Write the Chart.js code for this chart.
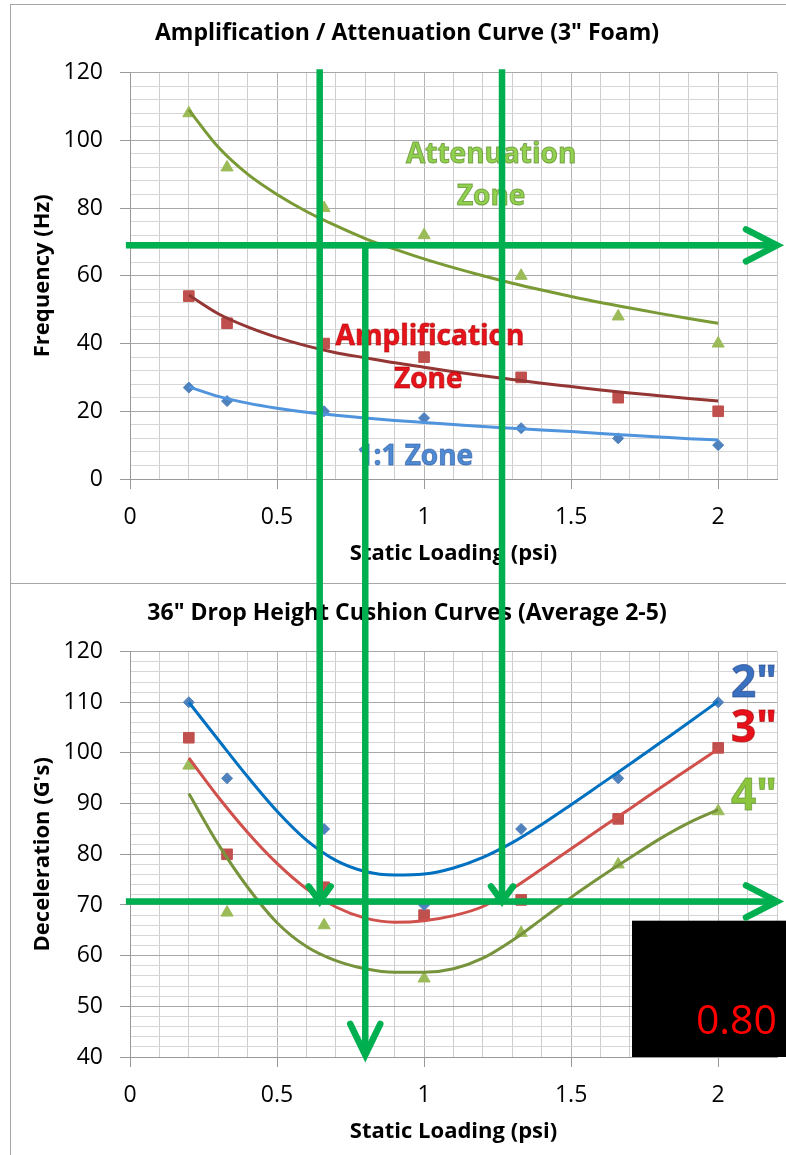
<!DOCTYPE html>
<html>
<head>
<meta charset="utf-8">
<script src="https://cdn.jsdelivr.net/npm/chart.js@4.4.1/dist/chart.umd.min.js"></script>
<style>
  html, body { margin: 0; padding: 0; background: #fff; }
  body { width: 786px; height: 1155px; position: relative; overflow: hidden; }
  #frame { position: absolute; left: 10px; top: 4px; width: 900px; height: 1300px;
           border-left: 1px solid #a6a6a6; border-top: 1px solid #a6a6a6; }
  #divider { position: absolute; left: 10px; top: 583px; width: 800px; height: 0;
             border-top: 1px solid #a6a6a6; }
  canvas { position: absolute; left: 0; }
  #topCanvas { top: 0; }
  #botCanvas { top: 583px; }
  #overlay { top: 0; pointer-events: none; }
</style>
</head>
<body>
<div id="frame"></div>
<div id="divider"></div>
<canvas id="topCanvas" width="786" height="583"></canvas>
<canvas id="botCanvas" width="786" height="572"></canvas>
<canvas id="overlay" width="786" height="1155"></canvas>
<script>
// ---- measured points (static loading, psi) ----
const psi = [0.2, 0.33, 0.66, 1.0, 1.33, 1.66, 2.0];

// top chart: natural frequency (Hz) of 3" foam
const attenHz = [108, 92, 80, 72, 60, 48, 40];
const amplHz  = [54, 46, 40, 36, 30, 24, 20];
const unityHz = [27, 23, 20, 18, 15, 12, 10];

// bottom chart: deceleration (G's) per cushion thickness
const g2in = [110, 95, 85, 70, 85, 95, 110];
const g3in = [103, 80, 73.5, 68, 71, 87, 101];
const g4in = [97.5, 68.5, 66, 55.5, 64.5, 78, 88.5];

// trendlines at these loadings
const trendPsi = [0.2, 0.3, 0.4, 0.5, 0.6, 0.7, 0.8, 0.9, 1.0, 1.1, 1.2, 1.3, 1.4, 1.5, 1.6, 1.7, 1.8, 1.9, 2.0];
const attenTrend = [109, 98, 90, 84, 79, 74.8, 71, 67.9, 65, 62.4, 60, 57.8, 55.8, 53.9, 52.1, 50.5, 48.9, 47.4, 46];
const amplTrend  = [54.3, 48.8, 44.9, 41.8, 39.3, 37.3, 35.8, 34.3, 33.0, 31.7, 30.5, 29.4, 28.3, 27.3, 26.3, 25.4, 24.6, 23.8, 23.0];
const unityTrend = [27.2, 24.4, 22.4, 20.9, 19.7, 18.8, 18.0, 17.3, 16.7, 16.1, 15.5, 15.0, 14.5, 14.0, 13.4, 12.9, 12.4, 11.9, 11.5];
const g2Trend = [110, 102.6, 95.3, 88.5, 82.8, 78.8, 76.6, 75.9, 76.1, 77.3, 79.4, 82.3, 85.9, 89.8, 93.8, 97.8, 101.9, 106, 110.2];
const g3Trend = [99, 91.3, 84.3, 78.2, 73.2, 69.6, 67.4, 66.6, 66.9, 67.9, 69.7, 73.2, 77.1, 81.1, 85.1, 89.0, 93.0, 96.9, 100.8];
const g4Trend = [92, 82, 73.5, 66.5, 61.8, 59.0, 57.4, 56.7, 56.7, 57.4, 59.5, 63.0, 67.2, 71.5, 75.5, 79.3, 83.0, 86.2, 88.8];

// tick labels
const psiMajor = [0, 0.5, 1, 1.5, 2];
const hzMajor = [0, 20, 40, 60, 80, 100, 120];
const gMajor = [40, 50, 60, 70, 80, 90, 100, 110, 120];

// read-off lines drawn on top of both charts
const hzLevel = 69;          // Hz
const gLevel = 70.7;         // G's
const readPsi = [0.645, 1.265];
const answerPsi = 0.80;

const FONT = "'Open Sans', 'Noto Sans', sans-serif";
const ARROW = '#00b050';

const near = (v, list) => list.some(m => Math.abs(m - v) < 1e-6);
const pts = (xs, ys) => xs.map((x, i) => ({ x, y: ys[i] }));

function markers(xs, ys, style, r, color) {
  return { data: pts(xs, ys), pointStyle: style, pointRadius: r, pointHoverRadius: r,
           backgroundColor: color, borderColor: color, borderWidth: 1, showLine: false };
}
function trend(ys, color) {
  return { data: pts(trendPsi, ys), showLine: true, pointRadius: 0, pointHoverRadius: 0,
           borderColor: color, borderWidth: 3, cubicInterpolationMode: 'monotone', fill: false };
}

// x tick padding also sets the right-hand gap of the plot, so the label
// drop is done with a tall line height instead
function scales(o) {
  return {
    x: {
      type: 'linear', min: 0, max: 2.2,
      afterFit: s => { s.height = o.xHeight; },
      ticks: { stepSize: 0.1, autoSkip: false, maxRotation: 0, padding: 9, color: '#000',
               font: { family: FONT, size: 23, lineHeight: 1.65 },
               callback: v => near(v, psiMajor) ? String(+v.toFixed(1)) : '' },
      grid: { color: c => near(c.tick.value, psiMajor) ? '#b4b4b4' : '#cdcdcd', tickLength: 10,
              tickColor: c => near(c.tick.value, psiMajor) ? '#999' : 'rgba(0,0,0,0)' },
      border: { color: '#999' },
      title: { display: true, text: 'Static Loading (psi)', color: '#000',
               font: { family: FONT, size: 22, weight: 'bold' }, padding: { top: 0, bottom: o.xTitlePad } }
    },
    y: {
      type: 'linear', min: o.yMin, max: o.yMax,
      afterFit: s => { s.width = 102; },
      ticks: { stepSize: o.yStep, autoSkip: false, padding: 17, color: '#000',
               font: { family: FONT, size: 23 },
               callback: v => near(v, o.yMajor) ? String(v) : '' },
      grid: { color: c => near(c.tick.value, o.yMajor) ? '#a8a8a8' : '#d6d6d6', tickLength: 10,
              tickColor: c => near(c.tick.value, o.yMajor) ? '#999' : 'rgba(0,0,0,0)' },
      border: { color: '#999' },
      title: { display: true, text: o.yTitle, color: '#000',
               font: { family: FONT, size: 22, weight: 'bold' }, padding: { top: 2, bottom: 0 } }
    }
  };
}

// text annotations placed in data coordinates
function labelPlugin(items) {
  return {
    id: 'zoneLabels',
    afterDatasetsDraw(chart) {
      const { ctx, scales: { x, y } } = chart;
      ctx.save();
      ctx.textAlign = 'center';
      ctx.textBaseline = 'middle';
      items.forEach(t => {
        ctx.font = `bold ${t.size}px ${FONT}`;
        const px = x.getPixelForValue(t.x), py = y.getPixelForValue(t.y);
        ctx.fillStyle = t.color;
        ctx.fillText(t.text, px, py);
        ctx.lineWidth = 1;
        ctx.strokeStyle = t.edge;
        ctx.strokeText(t.text, px, py);
      });
      ctx.restore();
    }
  };
}

// left padding 28 + y axis width 102 puts the plot's left edge at x=130
const common = (title, pad) => ({
  responsive: false, animation: false, events: [],
  layout: { padding: { left: 28, right: 0, top: 0, bottom: 0 } },
  plugins: {
    legend: { display: false }, tooltip: { enabled: false },
    title: { display: true, text: title, color: '#000', font: { family: FONT, size: 23, weight: 'bold' },
             padding: pad }
  }
});

const topChart = new Chart(document.getElementById('topCanvas'), {
  type: 'scatter',
  data: { datasets: [
    trend(attenTrend, '#7a9a36'),
    trend(amplTrend, '#943634'),
    trend(unityTrend, '#4f94dc'),
    markers(psi, attenHz, 'triangle', 7, '#9bbb59'),
    markers(psi, amplHz, 'rect', 7.5, '#c0504d'),
    markers(psi, unityHz, 'rectRot', 5.5, '#4f81bd')
  ] },
  options: Object.assign(common('Amplification / Attenuation Curve (3" Foam)', { top: 20, bottom: 25 }), {
    scales: scales({ xHeight: 104, xTitlePad: 16, yMin: 0, yMax: 120, yStep: 4, yMajor: hzMajor, yTitle: 'Frequency (Hz)' })
  }),
  plugins: [labelPlugin([
    { text: 'Attenuation', x: 1.228, y: 95.8, size: 28, color: '#92d050', edge: 'rgba(90,140,40,0.7)' },
    { text: 'Zone', x: 1.228, y: 83.4, size: 28, color: '#92d050', edge: 'rgba(90,140,40,0.7)' },
    { text: 'Amplification', x: 1.02, y: 42, size: 28, color: '#e8141c', edge: 'rgba(170,0,0,0.6)' },
    { text: 'Zone', x: 1.014, y: 29.3, size: 28, color: '#e8141c', edge: 'rgba(170,0,0,0.6)' },
    { text: '1:1 Zone', x: 0.97, y: 6.5, size: 28, color: '#4f8ad2', edge: 'rgba(40,90,160,0.6)' }
  ])]
});

const botChart = new Chart(document.getElementById('botCanvas'), {
  type: 'scatter',
  data: { datasets: [
    trend(g2Trend, '#0070c0'),
    trend(g3Trend, '#d0504c'),
    trend(g4Trend, '#77933c'),
    markers(psi, g2in, 'rectRot', 5.5, '#4f81bd'),
    markers(psi, g3in, 'rect', 7.5, '#c0504d'),
    markers(psi, g4in, 'triangle', 7, '#9bbb59')
  ] },
  options: Object.assign(common('36" Drop Height Cushion Curves (Average 2-5)', { top: 17, bottom: 24 }), {
    scales: scales({ xHeight: 98, xTitlePad: 10, yMin: 40, yMax: 120, yStep: 2, yMajor: gMajor, yTitle: "Deceleration (G's)" })
  }),
  plugins: [labelPlugin([
    { text: '2"', x: 2.122, y: 113.5, size: 44, color: '#3a70c0', edge: 'rgba(30,60,130,0.6)' },
    { text: '3"', x: 2.122, y: 104.6, size: 44, color: '#e8101a', edge: 'rgba(160,0,0,0.6)' },
    { text: '4"', x: 2.122, y: 91.2, size: 44, color: '#8cc63f', edge: 'rgba(90,140,40,0.6)' }
  ])]
});

// ---- overlay: read-off arrows and the answer box ----
function drawArrow(ctx, x1, y1, x2, y2, back, half) {
  const ang = Math.atan2(y2 - y1, x2 - x1);
  const c = Math.cos(ang), s = Math.sin(ang);
  ctx.lineCap = 'butt';
  ctx.beginPath();
  ctx.moveTo(x1, y1);
  ctx.lineTo(x2 - 2 * c, y2 - 2 * s);
  ctx.stroke();
  const bx = x2 - back * c, by = y2 - back * s;
  ctx.lineCap = 'round';
  ctx.lineJoin = 'miter';
  ctx.beginPath();
  ctx.moveTo(bx - s * half, by + c * half);
  ctx.lineTo(x2, y2);
  ctx.lineTo(bx + s * half, by - c * half);
  ctx.stroke();
}

(function drawOverlay() {
  const ctx = document.getElementById('overlay').getContext('2d');
  const botTop = document.getElementById('botCanvas').offsetTop;
  const tx = topChart.scales.x, ty = topChart.scales.y;
  const bx = botChart.scales.x, by = botChart.scales.y;

  // answer box first so arrows sit above it
  const boxL = bx.getPixelForValue(1.707), boxT = botTop + by.getPixelForValue(66.9);
  const boxB = botTop + by.getPixelForValue(40);
  ctx.fillStyle = '#000';
  ctx.fillRect(boxL, boxT, 786 - boxL, boxB - boxT);
  ctx.fillStyle = '#ff0000';
  ctx.font = `41px ${FONT}`;
  ctx.textAlign = 'right';
  ctx.textBaseline = 'alphabetic';
  ctx.fillText(answerPsi.toFixed(2), bx.getPixelForValue(2.2), boxB - 23);

  ctx.strokeStyle = ARROW;
  ctx.lineWidth = 6.5;
  const hzY = ty.getPixelForValue(hzLevel);
  const gY = botTop + by.getPixelForValue(gLevel);
  const xFrom = tx.getPixelForValue(-0.014), xTo = tx.getPixelForValue(2.2);
  drawArrow(ctx, xFrom, hzY, xTo, hzY, 31, 16);
  drawArrow(ctx, xFrom, gY, xTo, gY, 31, 16);
  readPsi.forEach(p => {
    const x = tx.getPixelForValue(p);
    drawArrow(ctx, x, ty.getPixelForValue(121), x, gY, 15, 11);
  });
  const ax = tx.getPixelForValue(answerPsi);
  drawArrow(ctx, ax, hzY, ax, botTop + by.getPixelForValue(40.4), 31, 15);
})();
</script>
</body>
</html>
